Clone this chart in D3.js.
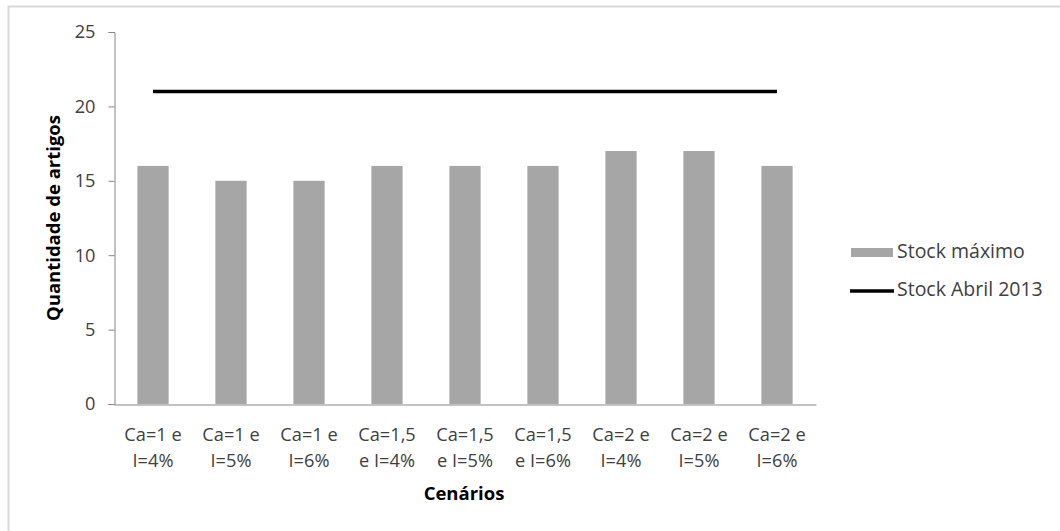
<!DOCTYPE html>
<html>
<head>
<meta charset="utf-8">
<script src="https://cdn.jsdelivr.net/npm/d3@7"></script>
<style>
  html, body { margin: 0; padding: 0; background: #fff; }
  svg { display: block; }
  text { font-family: "Open Sans", sans-serif; }
</style>
</head>
<body>
<svg id="chart" width="1060" height="531"></svg>
<script>
// Scenario categories (two-line labels)
const categories = [
  ["Ca=1 e", "I=4%"], ["Ca=1 e", "I=5%"], ["Ca=1 e", "I=6%"],
  ["Ca=1,5", "e I=4%"], ["Ca=1,5", "e I=5%"], ["Ca=1,5", "e I=6%"],
  ["Ca=2 e", "I=4%"], ["Ca=2 e", "I=5%"], ["Ca=2 e", "I=6%"]
];
const stockMaximo = [16, 15, 15, 16, 16, 16, 17, 17, 16];
const stockAbril2013 = [21, 21, 21, 21, 21, 21, 21, 21, 21];
const yTicks = [0, 5, 10, 15, 20, 25];
const seriesNames = ["Stock máximo", "Stock Abril 2013"];

const FS = 18.2;      // tick and category labels
const FS_LEG = 19.5;  // legend entries
const FS_TTL = 18.5;  // axis titles
const svg = d3.select("#chart");
const W = 1060, H = 531;

// outer chart frame
svg.append("rect")
  .attr("x", 8.5).attr("y", 6.5)
  .attr("width", W + 20).attr("height", H + 20)
  .attr("fill", "#fff").attr("stroke", "#d9d9d9").attr("stroke-width", 2);

const plot = { left: 114, right: 816, top: 32, bottom: 404 };
const keys = categories.map((d, i) => i);

const xc = d3.scaleBand().domain(keys).range([plot.left, plot.right]);
const y = d3.scaleLinear().domain([0, 25]).range([plot.bottom, plot.top]);
const cx = i => xc(i) + xc.bandwidth() / 2;

// bars (gap width 150%)
svg.append("g").selectAll("rect").data(stockMaximo).join("rect")
  .attr("x", (d, i) => cx(i) - xc.bandwidth() * 0.2)
  .attr("width", xc.bandwidth() * 0.4)
  .attr("y", d => y(d))
  .attr("height", d => y(0) - y(d))
  .attr("fill", "#a6a6a6");

// y axis
const yAxis = svg.append("g")
  .attr("transform", `translate(${plot.left + 0.5},0)`)
  .call(d3.axisLeft(y).tickValues(yTicks).tickSize(6).tickPadding(13));
yAxis.select(".domain").attr("stroke", "#868686");
yAxis.selectAll(".tick line").attr("stroke", "#868686");
yAxis.selectAll("text").attr("font-size", FS).attr("fill", "#404040")
  .attr("font-family", "'Open Sans', sans-serif");

// x axis baseline
const xAxis = svg.append("g")
  .attr("transform", `translate(0,${plot.bottom + 0.5})`)
  .call(d3.axisBottom(xc).tickSize(0).tickFormat(""));
xAxis.select(".domain").attr("stroke", "#868686");
xAxis.selectAll(".tick").remove();

// category labels
const lab = svg.append("g").selectAll("text").data(categories).join("text")
  .attr("text-anchor", "middle")
  .attr("font-size", FS).attr("fill", "#404040");
lab.append("tspan").attr("x", (d, i) => cx(i)).attr("y", 441).text(d => d[0]);
lab.append("tspan").attr("x", (d, i) => cx(i)).attr("y", 467).text(d => d[1]);

// reference line
const line = d3.line().x((d, i) => cx(i)).y(d => y(d));
svg.append("path").datum(stockAbril2013)
  .attr("d", line).attr("fill", "none")
  .attr("stroke", "#000").attr("stroke-width", 3.5);

// axis titles
svg.append("text").attr("x", 464).attr("y", 500)
  .attr("text-anchor", "middle").attr("font-size", FS_TTL).attr("font-weight", "bold")
  .attr("fill", "#000").text("Cenários");
svg.append("text")
  .attr("transform", "translate(60,218) rotate(-90)")
  .attr("text-anchor", "middle").attr("font-size", FS_TTL).attr("font-weight", "bold")
  .attr("fill", "#000").text("Quantidade de artigos");

// legend
const lg = svg.append("g");
lg.append("rect").attr("x", 851).attr("y", 248).attr("width", 42).attr("height", 9).attr("fill", "#a6a6a6");
lg.append("text").attr("x", 897).attr("y", 258).attr("font-size", FS_LEG).attr("fill", "#404040").text(seriesNames[0]);
lg.append("line").attr("x1", 850).attr("x2", 894).attr("y1", 291).attr("y2", 291)
  .attr("stroke", "#000").attr("stroke-width", 3.5);
lg.append("text").attr("x", 897).attr("y", 296).attr("font-size", FS_LEG).attr("fill", "#404040").text(seriesNames[1]);
</script>
</body>
</html>
